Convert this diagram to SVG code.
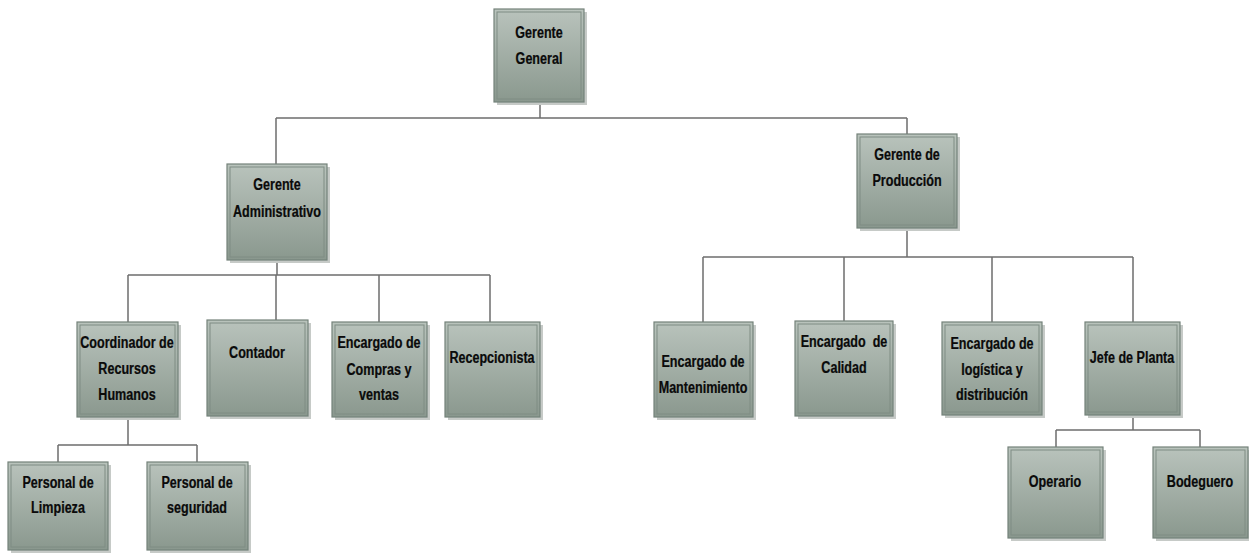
<svg xmlns="http://www.w3.org/2000/svg" width="1249" height="555" viewBox="0 0 1249 555">
<defs>
<linearGradient id="g" x1="0" y1="0" x2="0" y2="1">
<stop offset="0" stop-color="#b9c3bc"/>
<stop offset="1" stop-color="#8a988e"/>
</linearGradient>
<style>
.sh{fill:#c6cac7}
.box{fill:url(#g);stroke:#74827a;stroke-width:1.2}
.in{fill:none;stroke:#7f8c83;stroke-width:1}
.t{font-family:"Liberation Sans",Arial,sans-serif;font-weight:bold;font-size:17px;fill:#0a0a0a;stroke:#0a0a0a;stroke-width:0.25;text-anchor:middle}
.c{fill:none;stroke:#6e6e6e;stroke-width:1.5}
</style>
</defs>
<rect width="1249" height="555" fill="#ffffff"/>
<g id="connectors">
<path class="c" d="M540 102V118M276 118H907M276 118V164M907 118V134"/>
<path class="c" d="M277 260V275M128 275H490M128 275V322M276 275V320M379 275V322M490 275V322"/>
<path class="c" d="M907 228V257M703 257H1133M703 257V322M844 257V321M992 257V322M1133 257V322"/>
<path class="c" d="M128 417V445M58 445H197M58 445V462M197 445V462"/>
<path class="c" d="M1133 415V430M1056 430H1200M1056 430V447M1200 430V447"/>
</g>
<g id="gerente-general">
<rect class="sh" x="497" y="12" width="90" height="93"/>
<rect class="box" x="494" y="9" width="90" height="93"/>
<rect class="in" x="497" y="12" width="84" height="87"/>
<g transform="translate(539 0) scale(0.74 1)"><text class="t" x="0" y="38">Gerente</text><text class="t" x="0" y="64">General</text></g>
</g>
<g id="gerente-administrativo">
<rect class="sh" x="230" y="167" width="100" height="96"/>
<rect class="box" x="227" y="164" width="100" height="96"/>
<rect class="in" x="230" y="167" width="94" height="90"/>
<g transform="translate(277 0) scale(0.74 1)"><text class="t" x="0" y="190">Gerente</text><text class="t" x="0" y="217">Administrativo</text></g>
</g>
<g id="gerente-produccion">
<rect class="sh" x="860" y="137" width="100" height="94"/>
<rect class="box" x="857" y="134" width="100" height="94"/>
<rect class="in" x="860" y="137" width="94" height="88"/>
<g transform="translate(907 0) scale(0.74 1)"><text class="t" x="0" y="160">Gerente de</text><text class="t" x="0" y="186">Producción</text></g>
</g>
<g id="coordinador">
<rect class="sh" x="80" y="325" width="101" height="95"/>
<rect class="box" x="77" y="322" width="101" height="95"/>
<rect class="in" x="80" y="325" width="95" height="89"/>
<g transform="translate(127 0) scale(0.74 1)"><text class="t" x="0" y="348">Coordinador de</text><text class="t" x="0" y="374">Recursos</text><text class="t" x="0" y="400">Humanos</text></g>
</g>
<g id="contador">
<rect class="sh" x="210" y="323" width="101" height="96"/>
<rect class="box" x="207" y="320" width="101" height="96"/>
<rect class="in" x="210" y="323" width="95" height="90"/>
<g transform="translate(257 0) scale(0.74 1)"><text class="t" x="0" y="358">Contador</text></g>
</g>
<g id="compras">
<rect class="sh" x="335" y="325" width="95" height="95"/>
<rect class="box" x="332" y="322" width="95" height="95"/>
<rect class="in" x="335" y="325" width="89" height="89"/>
<g transform="translate(379 0) scale(0.74 1)"><text class="t" x="0" y="348">Encargado de</text><text class="t" x="0" y="375">Compras y</text><text class="t" x="0" y="400">ventas</text></g>
</g>
<g id="recepcionista">
<rect class="sh" x="448" y="325" width="95" height="95"/>
<rect class="box" x="445" y="322" width="95" height="95"/>
<rect class="in" x="448" y="325" width="89" height="89"/>
<g transform="translate(492 0) scale(0.74 1)"><text class="t" x="0" y="363">Recepcionista</text></g>
</g>
<g id="mantenimiento">
<rect class="sh" x="657" y="325" width="99" height="95"/>
<rect class="box" x="654" y="322" width="99" height="95"/>
<rect class="in" x="657" y="325" width="93" height="89"/>
<g transform="translate(703 0) scale(0.74 1)"><text class="t" x="0" y="367">Encargado de</text><text class="t" x="0" y="393">Mantenimiento</text></g>
</g>
<g id="calidad">
<rect class="sh" x="798" y="324" width="98" height="95"/>
<rect class="box" x="795" y="321" width="98" height="95"/>
<rect class="in" x="798" y="324" width="92" height="89"/>
<g transform="translate(844 0) scale(0.74 1)"><text class="t" x="0" y="347" xml:space="preserve">Encargado  de</text><text class="t" x="0" y="373">Calidad</text></g>
</g>
<g id="logistica">
<rect class="sh" x="945" y="325" width="100" height="93"/>
<rect class="box" x="942" y="322" width="100" height="93"/>
<rect class="in" x="945" y="325" width="94" height="87"/>
<g transform="translate(992 0) scale(0.74 1)"><text class="t" x="0" y="349">Encargado de</text><text class="t" x="0" y="375">logística y</text><text class="t" x="0" y="400">distribución</text></g>
</g>
<g id="jefe-planta">
<rect class="sh" x="1088" y="325" width="95" height="93"/>
<rect class="box" x="1085" y="322" width="95" height="93"/>
<rect class="in" x="1088" y="325" width="89" height="87"/>
<g transform="translate(1132 0) scale(0.74 1)"><text class="t" x="0" y="363">Jefe de Planta</text></g>
</g>
<g id="limpieza">
<rect class="sh" x="11" y="465" width="100" height="88"/>
<rect class="box" x="8" y="462" width="100" height="88"/>
<rect class="in" x="11" y="465" width="94" height="82"/>
<g transform="translate(58 0) scale(0.74 1)"><text class="t" x="0" y="488">Personal de</text><text class="t" x="0" y="513">Limpieza</text></g>
</g>
<g id="seguridad">
<rect class="sh" x="150" y="465" width="101" height="88"/>
<rect class="box" x="147" y="462" width="101" height="88"/>
<rect class="in" x="150" y="465" width="95" height="82"/>
<g transform="translate(197 0) scale(0.74 1)"><text class="t" x="0" y="488">Personal de</text><text class="t" x="0" y="513">seguridad</text></g>
</g>
<g id="operario">
<rect class="sh" x="1011" y="450" width="95" height="91"/>
<rect class="box" x="1008" y="447" width="95" height="91"/>
<rect class="in" x="1011" y="450" width="89" height="85"/>
<g transform="translate(1055 0) scale(0.74 1)"><text class="t" x="0" y="487">Operario</text></g>
</g>
<g id="bodeguero">
<rect class="sh" x="1156" y="450" width="95" height="91"/>
<rect class="box" x="1153" y="447" width="95" height="91"/>
<rect class="in" x="1156" y="450" width="89" height="85"/>
<g transform="translate(1200 0) scale(0.74 1)"><text class="t" x="0" y="487">Bodeguero</text></g>
</g>
</svg>
